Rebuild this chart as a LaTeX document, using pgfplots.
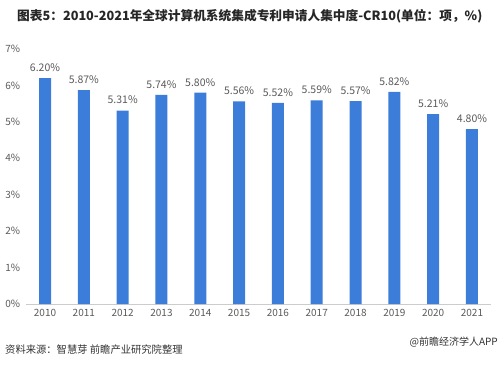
\documentclass[border=0pt]{standalone}
\usepackage{pgfplots}
\pgfplotsset{compat=1.18}
\usepackage{fontspec}
\setmainfont{Noto Sans CJK SC}
\definecolor{barblue}{HTML}{3C7DD9}
\definecolor{txtgray}{HTML}{5A5A5A}
\begin{document}
\begin{tikzpicture}[x=1pt,y=1pt]
\path (0,0) rectangle (500,367);
\node[anchor=west, inner sep=0pt, font=\bfseries\fontsize{12.7}{15}\selectfont, text=black!85] at (17,351) {图表5：2010-2021年全球计算机系统集成专利申请人集中度-CR10(单位：项，\%)};
\begin{axis}[
  at={(25.6pt,63pt)}, anchor=south west,
  scale only axis, width=465.8pt, height=255pt,
  xmin=-0.5, xmax=11.5, ymin=0, ymax=7,
  ytick={0,1,...,7},
  yticklabel={\pgfmathprintnumber{\tick}\%},
  xtick={0,...,11},
  xticklabels={2010,2011,2012,2013,2014,2015,2016,2017,2018,2019,2020,2021},
  /pgf/number format/assume math mode=true,
  axis lines=left,
  y axis line style={draw=none},
  x axis line style={draw=black!20, line width=0.8pt, -},
  major tick length=0pt,
  tick label style={font=\fontsize{10}{12}\selectfont, text=txtgray},
  xticklabel style={yshift=-2pt},
  yticklabel style={xshift=-2pt},
  clip=false,
  nodes near coords={\pgfmathprintnumber[fixed,fixed zerofill,precision=2]{\pgfplotspointmeta}\%},
  nodes near coords style={font=\fontsize{10.5}{12}\selectfont, text=txtgray, anchor=south, yshift=3pt},
]
\addplot[ybar, bar width=12pt, fill=barblue, draw=none] coordinates {
(0,6.20) (1,5.87) (2,5.31) (3,5.74) (4,5.80) (5,5.56) (6,5.52) (7,5.59) (8,5.57) (9,5.82) (10,5.21) (11,4.80)};
\end{axis}
\node[anchor=west, inner sep=0pt, font=\fontsize{10.3}{12}\selectfont, text=black!80] at (5,17) {资料来源：智慧芽 前瞻产业研究院整理};
\node[anchor=east, inner sep=0pt, font=\fontsize{10}{12}\selectfont, text=black!80] at (498,25) {@前瞻经济学人APP};
\end{tikzpicture}
\end{document}
